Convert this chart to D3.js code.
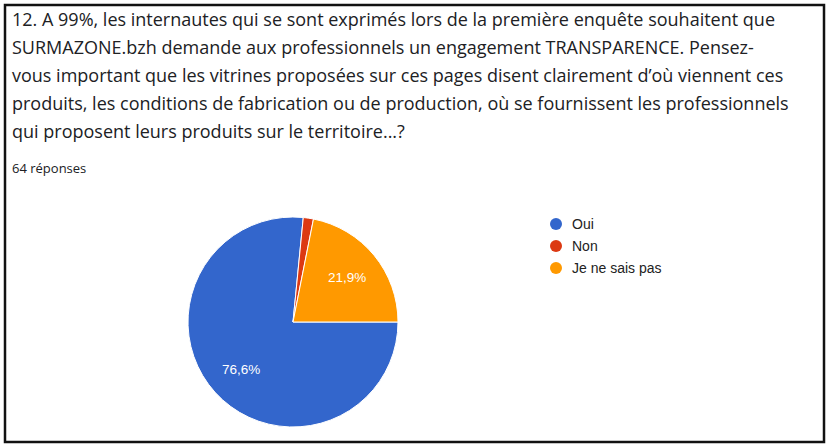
<!DOCTYPE html>
<html>
<head>
<meta charset="utf-8">
<script src="https://cdn.jsdelivr.net/npm/d3@7"></script>
<style>
  html, body { margin: 0; padding: 0; background: #fff; }
  svg { display: block; }
</style>
</head>
<body>
<svg id="chart" width="832" height="448"></svg>
<script>
const titleLines = [
  "12. A 99%, les internautes qui se sont exprimés lors de la première enquête souhaitent que",
  "SURMAZONE.bzh demande aux professionnels un engagement TRANSPARENCE. Pensez-",
  "vous important que les vitrines proposées sur ces pages disent clairement d’où viennent ces",
  "produits, les conditions de fabrication ou de production, où se fournissent les professionnels",
  "qui proposent leurs produits sur le territoire...?"
];
const subtitle = "64 réponses";
const categories = ["Oui", "Non", "Je ne sais pas"];
const counts = [49, 1, 14];
const colors = ["#3366cc", "#dc3912", "#ff9900"];

const svg = d3.select("#chart");

svg.append("rect")
  .attr("x", 5).attr("y", 5)
  .attr("width", 819).attr("height", 437)
  .attr("fill", "#fff")
  .attr("stroke", "#111")
  .attr("stroke-width", 2.5);

// question text
const title = svg.append("g")
  .attr("font-family", "'Open Sans', Roboto, sans-serif")
  .attr("font-size", 17)
  .attr("fill", "#202124");
title.selectAll("text")
  .data(titleLines)
  .join("text")
  .attr("x", 12)
  .attr("y", (d, i) => 26 + i * 28)
  .text(d => d);

// fit first line to the width of the original (≈763px)
const w0 = title.select("text").node().getComputedTextLength();
if (w0 > 0) title.attr("font-size", 17 * 763 / w0);

svg.append("text")
  .attr("x", 12).attr("y", 173)
  .attr("font-family", "'Open Sans', Roboto, sans-serif")
  .attr("font-size", 13)
  .attr("fill", "#202124")
  .text(subtitle);

// pie
const total = d3.sum(counts);
const data = categories.map((c, i) => ({ name: c, value: counts[i], color: colors[i] }));
const radius = 105;
const cx = 293, cy = 322;

const pie = d3.pie()
  .sort(null)
  .value(d => d.value)
  .startAngle(Math.PI / 2)
  .endAngle(Math.PI / 2 + 2 * Math.PI);

const arc = d3.arc().innerRadius(0).outerRadius(radius);
const labelArc = d3.arc().innerRadius(70).outerRadius(70);

const g = svg.append("g").attr("transform", `translate(${cx},${cy})`);
const arcs = pie(data);

g.selectAll("path.slice")
  .data(arcs)
  .join("path")
  .attr("class", "slice")
  .attr("d", arc)
  .attr("fill", d => d.data.color)
  .attr("stroke", "#fff")
  .attr("stroke-width", 1);

const fmt = v => (v * 100).toFixed(1).replace(".", ",") + "%";

g.selectAll("text.lbl")
  .data(arcs.filter(d => d.data.value / total > 0.05))
  .join("text")
  .attr("class", "lbl")
  .attr("transform", d => `translate(${labelArc.centroid(d)})`)
  .attr("text-anchor", "middle")
  .attr("dy", "0.35em")
  .attr("font-family", "'Liberation Sans', Arial, sans-serif")
  .attr("font-size", 13.5)
  .attr("fill", "#fff")
  .text(d => fmt(d.data.value / total));

// legend
const legend = svg.append("g").attr("transform", "translate(556,224)");
const item = legend.selectAll("g")
  .data(data)
  .join("g")
  .attr("transform", (d, i) => `translate(0,${i * 22})`);

item.append("circle")
  .attr("r", 6)
  .attr("fill", d => d.color);

item.append("text")
  .attr("x", 16)
  .attr("dy", "0.36em")
  .attr("font-family", "'Liberation Sans', Arial, sans-serif")
  .attr("font-size", 14)
  .attr("fill", "#222")
  .text(d => d.name);
</script>
</body>
</html>
